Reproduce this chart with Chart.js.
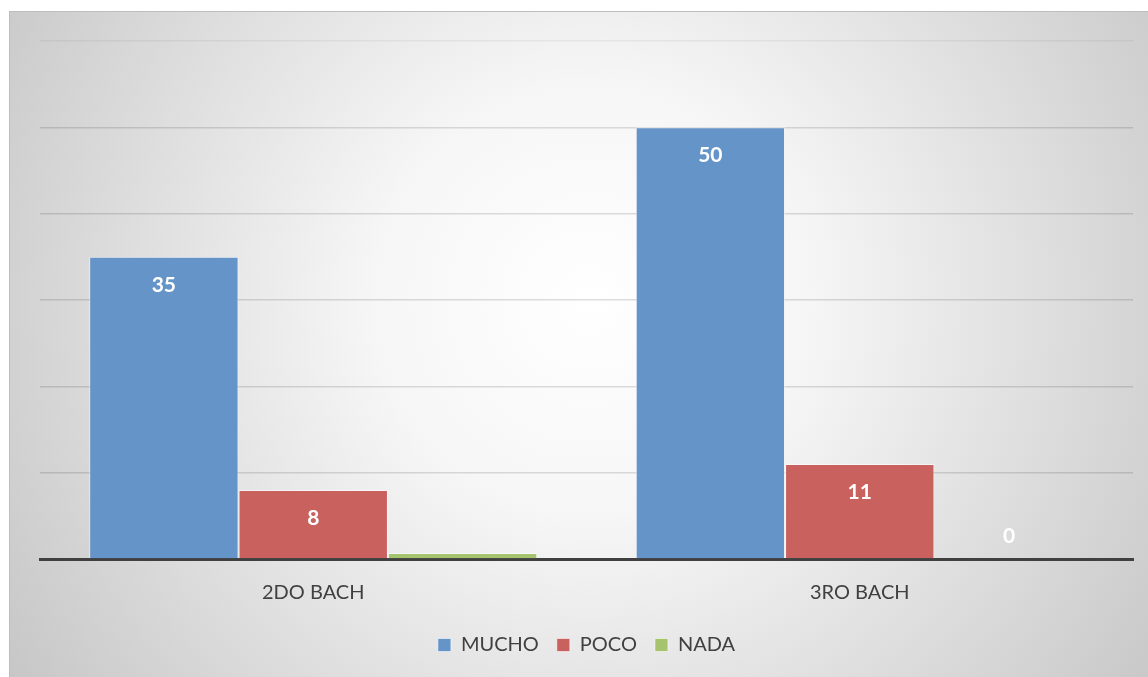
<!DOCTYPE html>
<html>
<head>
<meta charset="utf-8">
<title>MUCHO / POCO / NADA</title>
<script src="https://cdn.jsdelivr.net/npm/chart.js@4.4.0/dist/chart.umd.min.js"></script>
<style>
  body { margin: 0; background: #ffffff; }
  #grafico { display: block; }
</style>
</head>
<body>
<canvas id="grafico" width="1148" height="677"></canvas>
<script>
// datos
var cursos = ['2DO BACH', '3RO BACH'];
var mucho = [35, 50];
var poco = [8, 11];
var nada = [0.7, 0];
// etiquetas visibles sobre cada barra
var etiquetasMucho = [true, true];
var etiquetasPoco = [true, true];
var etiquetasNada = [false, true];

var fuente = 'Lato, "Open Sans", sans-serif';

// fondo degradado y marco
var fondo = {
    id: 'fondo',
    beforeDraw: function(chart) {
        var ctx = chart.ctx;
        ctx.save();
        var g = ctx.createRadialGradient(590, 300, 0, 590, 300, 720);
        g.addColorStop(0, '#ffffff');
        g.addColorStop(0.3, '#f6f6f6');
        g.addColorStop(1, '#c4c4c4');
        ctx.fillStyle = g;
        ctx.fillRect(9, 11, chart.width - 9, chart.height - 11);
        ctx.strokeStyle = '#bdbdbd';
        ctx.lineWidth = 1;
        ctx.beginPath();
        ctx.moveTo(9.5, chart.height);
        ctx.lineTo(9.5, 11.5);
        ctx.lineTo(chart.width, 11.5);
        ctx.stroke();
        ctx.restore();
    }
};

// valores dentro de las barras
var valores = {
    id: 'valores',
    afterDatasetsDraw: function(chart) {
        var ctx = chart.ctx;
        var base = chart.scales.y.getPixelForValue(0);
        ctx.save();
        ctx.font = 'bold 21px ' + fuente;
        ctx.fillStyle = '#ffffff';
        ctx.textAlign = 'center';
        ctx.textBaseline = 'middle';
        chart.data.datasets.forEach(function(ds, i) {
            var meta = chart.getDatasetMeta(i);
            meta.data.forEach(function(bar, j) {
                if (!ds.mostrar[j]) return;
                var y = bar.y + 28;
                if (base - bar.y < 40) y = base - 23;
                ctx.fillText(String(ds.data[j]), bar.x, y);
            });
        });
        ctx.restore();
    }
};

var borde = 'rgba(255,255,255,0.55)';

new Chart(document.getElementById('grafico'), {
    type: 'bar',
    data: {
        labels: cursos,
        datasets: [
            { label: 'MUCHO', data: mucho, mostrar: etiquetasMucho, backgroundColor: '#6594c8', borderColor: borde, borderWidth: 1 },
            { label: 'POCO', data: poco, mostrar: etiquetasPoco, backgroundColor: '#c9625f', borderColor: borde, borderWidth: 1 },
            { label: 'NADA', data: nada, mostrar: etiquetasNada, backgroundColor: '#a6c46e', borderColor: borde, borderWidth: 1 }
        ]
    },
    options: {
        responsive: false,
        animation: false,
        layout: { padding: { left: 40, right: 15, top: 41, bottom: 12 } },
        datasets: { bar: { categoryPercentage: 0.82, barPercentage: 1 } },
        scales: {
            x: {
                grid: { display: false, drawTicks: false },
                border: { color: '#404040', width: 3 },
                ticks: { color: '#404040', font: { family: fuente, size: 20 }, padding: 22 },
                afterFit: function(s) { s.height = 58; }
            },
            y: {
                min: 0, max: 60,
                ticks: { display: false, stepSize: 10 },
                border: { display: false },
                grid: {
                    drawTicks: false,
                    color: function(c) { return c.tick.value === 60 ? 'rgba(0,0,0,0.05)' : 'rgba(0,0,0,0.13)'; },
                    lineWidth: 1.5
                },
                afterFit: function(s) { s.width = 0; }
            }
        },
        plugins: {
            legend: {
                position: 'bottom',
                labels: {
                    color: '#404040',
                    font: { family: fuente, size: 20 },
                    boxWidth: 13, boxHeight: 13,
                    padding: 18
                }
            },
            tooltip: { enabled: false }
        }
    },
    plugins: [fondo, valores]
});
</script>
</body>
</html>
